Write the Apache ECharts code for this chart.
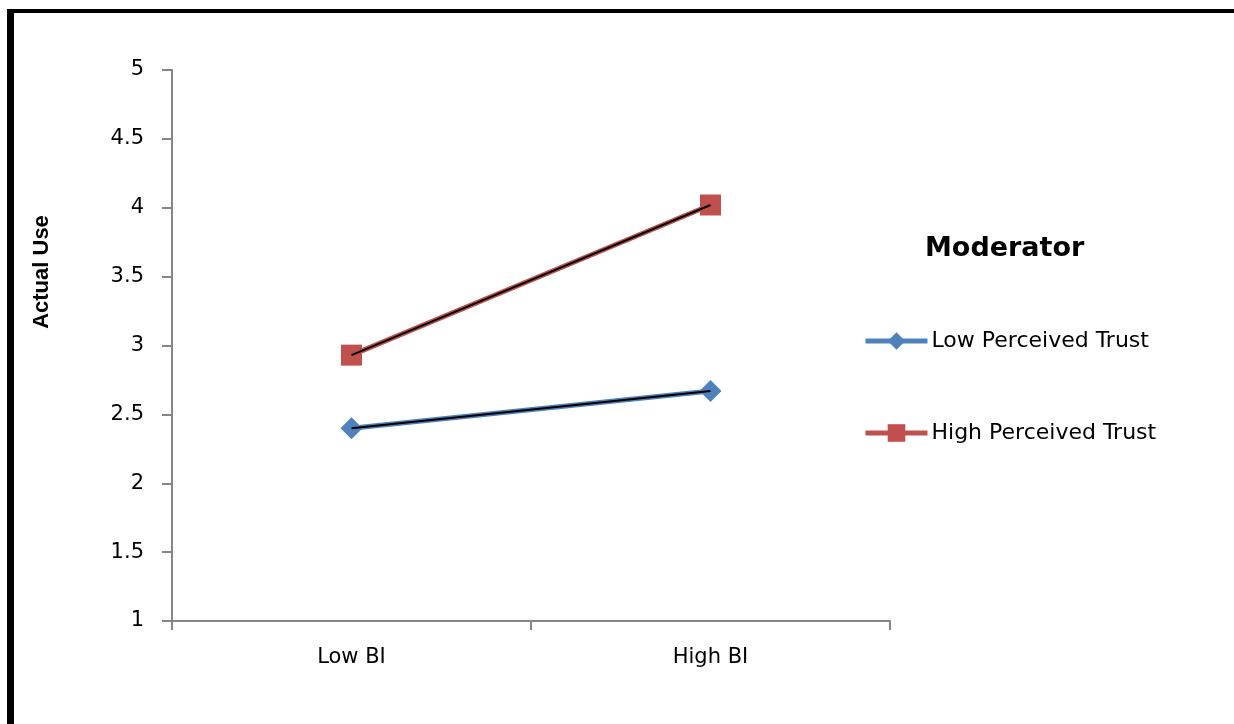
<!DOCTYPE html>
<html>
<head>
<meta charset="utf-8">
<script src="https://cdn.jsdelivr.net/npm/echarts@6/dist/echarts.min.js"></script>
<style>
html,body{margin:0;padding:0;background:#fff;}
#chart{width:1234px;height:724px;}
</style>
</head>
<body>
<div id="chart"></div>
<script>
var categories = ['Low BI', 'High BI'];
var lowTrust = [2.40, 2.67];
var highTrust = [2.93, 4.02];
var seriesNames = ['Low Perceived Trust', 'High Perceived Trust'];
var yTicks = [1, 1.5, 2, 2.5, 3, 3.5, 4, 4.5, 5];

var chart = echarts.init(document.getElementById('chart'));
var font = 'DejaVu Sans';
function legendFor(name, top) {
  return {
    data: [name], orient: 'vertical', left: 863, top: top, padding: 0,
    itemWidth: 62, itemHeight: 22, itemGap: 4,
    lineStyle: {width: 5},
    textStyle: {color: '#000', fontFamily: font, fontSize: 22, padding: [0, 0, 0, -1]}
  };
}
chart.setOption({
  animation: false,
  backgroundColor: '#fff',
  grid: {left: 172, right: 344, top: 70, bottom: 103, containLabel: false},
  xAxis: {
    type: 'category',
    data: categories,
    boundaryGap: true,
    axisLine: {lineStyle: {color: '#868686', width: 2}},
    axisTick: {show: true, length: 9, lineStyle: {color: '#868686', width: 2}},
    axisLabel: {color: '#000', fontFamily: font, fontSize: 21, margin: 26}
  },
  yAxis: {
    type: 'value',
    min: yTicks[0],
    max: yTicks[yTicks.length - 1],
    interval: 0.5,
    splitLine: {show: false},
    axisLine: {show: true, lineStyle: {color: '#868686', width: 2}},
    axisTick: {show: true, length: 10, lineStyle: {color: '#868686', width: 2}},
    axisLabel: {color: '#000', fontFamily: font, fontSize: 21, margin: 28}
  },
  legend: [legendFor(seriesNames[0], 330), legendFor(seriesNames[1], 422)],
  graphic: [
    {type: 'rect', shape: {x: 7, y: 9, width: 7, height: 720}, style: {fill: '#000'}},
    {type: 'rect', shape: {x: 7, y: 9, width: 1230, height: 4}, style: {fill: '#000'}},
    {type: 'text', left: 925, top: 235, style: {text: 'Moderator', font: 'bold 27px "DejaVu Sans"', fill: '#000'}},
    {type: 'text', x: 42, y: 272, rotation: Math.PI / 2,
     style: {text: 'Actual Use', font: 'bold 22px "Liberation Sans"', fill: '#000', align: 'center', verticalAlign: 'middle'}}
  ],
  series: [
    {
      name: seriesNames[0], type: 'line', data: lowTrust,
      symbol: 'diamond', symbolSize: 22,
      lineStyle: {color: '#4F81BD', width: 5},
      itemStyle: {color: '#4F81BD'}, z: 2
    },
    {
      name: seriesNames[1], type: 'line', data: highTrust,
      symbol: 'rect', symbolSize: 21,
      lineStyle: {color: '#C0504D', width: 5},
      itemStyle: {color: '#C0504D'}, z: 2
    },
    {
      name: 'trendLow', type: 'line', data: lowTrust, symbol: 'none',
      lineStyle: {color: '#000', width: 2}, z: 5, silent: true
    },
    {
      name: 'trendHigh', type: 'line', data: highTrust, symbol: 'none',
      lineStyle: {color: '#000', width: 2}, z: 5, silent: true
    }
  ]
});
</script>
</body>
</html>
